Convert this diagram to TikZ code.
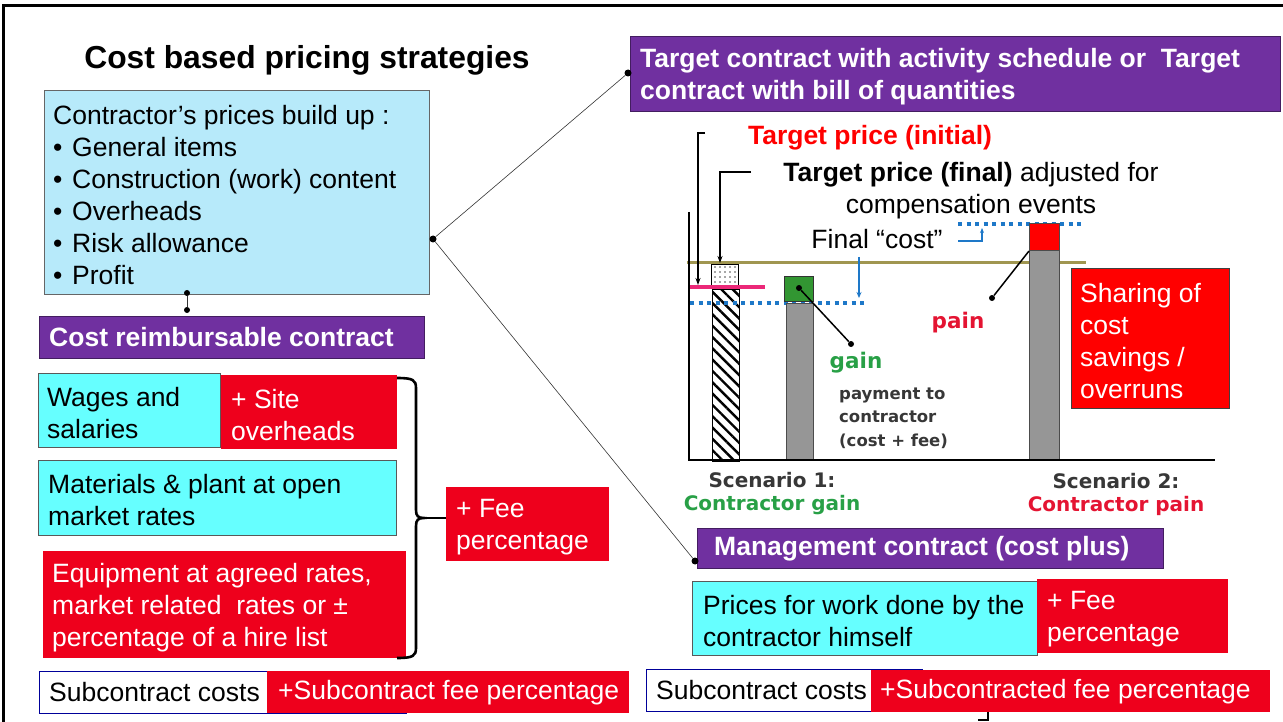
\documentclass[tikz,border=0pt]{standalone}
\usepackage{fontspec}
\setmainfont{Liberation Sans}
\newfontfamily\chartfont{DejaVu Sans}
\usetikzlibrary{patterns.meta,arrows.meta}

\definecolor{skyfill}{RGB}{183,234,250}
\definecolor{aqua}{RGB}{102,255,255}
\definecolor{hotred}{RGB}{238,0,28}
\definecolor{plum}{RGB}{112,48,160}
\definecolor{olivebar}{RGB}{160,150,80}
\definecolor{rose}{RGB}{235,40,120}
\definecolor{dotblue}{RGB}{30,120,200}
\definecolor{leaf}{RGB}{50,150,50}
\definecolor{gaingreen}{RGB}{40,160,70}
\definecolor{painred}{RGB}{228,20,50}
\definecolor{bargray}{RGB}{150,150,150}
\definecolor{ink}{RGB}{55,55,55}

\newcommand\mainsize{\fontsize{26.5}{32}\selectfont}

\tikzset{
  wh/.style 2 args={minimum width=#1, minimum height=#2},
  panel/.style={anchor=north west, rectangle, inner sep=0pt},
  lbl/.style={anchor=west, align=left, inner sep=0pt, font=\mainsize},
  ml/.style={yshift=-2.5pt},
  wlbl/.style={lbl, text=white},
  blbl/.style={lbl, text=white, font=\mainsize\bfseries},
  sky/.style={panel, fill=skyfill, draw=gray!80!black, line width=0.8pt},
  aquabox/.style={panel, fill=aqua, draw=gray!70!black, line width=0.8pt},
  redbox/.style={panel, fill=hotred},
  purplebox/.style={panel, fill=plum, draw=plum!60!black, line width=0.8pt},
  whitebox/.style={panel, fill=white, draw=blue!60!black, line width=0.8pt},
  joint/.style={circle, fill=black, inner sep=0pt, minimum size=7pt},
  link/.style={draw=black!80, line width=0.6pt},
  bluedots/.style={dotblue, line width=3.5pt, dash pattern=on 4pt off 4.5pt},
  chartbold/.style={inner sep=0pt, font=\chartfont\bfseries\fontsize{21.5}{25}\selectfont},
  pointer/.style={line width=1.5pt},
}

\begin{document}
\begin{tikzpicture}[x=1pt,y=-1pt]
\useasboundingbox (0,0) rectangle (1283,722);

% outer frame
\draw[line width=3pt] (3,722) -- (3,6) -- (1283,6);

% ---------- left half ----------
\node[font=\fontsize{31.8}{38}\selectfont\bfseries] (title) at (307,60) {Cost based pricing strategies};

\node[sky, wh={385}{204}] (build) at (44,90) {};
\node[lbl, ml] (buildT) at ([xshift=9pt]build.west) {Contractor’s prices build up :\\
  \makebox[19pt][l]{•}General items\\
  \makebox[19pt][l]{•}Construction (work) content\\
  \makebox[19pt][l]{•}Overheads\\
  \makebox[19pt][l]{•}Risk allowance\\
  \makebox[19pt][l]{•}Profit};

\node[purplebox, wh={385}{42}] (reimb) at (39,316) {};
\node[blbl] (reimbT) at ([xshift=10pt]reimb.west) {Cost reimbursable contract};

\node[joint, minimum size=6pt] (d1) at (187,293) {};
\node[joint, minimum size=6pt] (d2) at (187,310) {};
\draw[link, line width=1pt] (d1) -- (d2);

\node[aquabox, wh={182}{74}] (wages) at (38,373) {};
\node[lbl, ml] (wagesT) at ([xshift=9pt]wages.west) {Wages and\\salaries};
\node[redbox, wh={176}{74}] (site) at (221,375) {};
\node[wlbl, ml] (siteT) at ([xshift=10pt]site.west) {+ Site\\overheads};

\node[aquabox, wh={358}{75}] (mat) at (38,460) {};
\node[lbl, ml] (matT) at ([xshift=10pt]mat.west) {Materials \& plant at open\\market rates};

\node[redbox, wh={363}{107}] (equip) at (43,551) {};
\node[wlbl, ml] (equipT) at ([xshift=9pt]equip.west) {Equipment at agreed rates,\\market related~ rates or ±\\percentage of a hire list};

\node[redbox, wh={163}{74}] (fee) at (446,487) {};
\node[wlbl, ml] (feeT) at ([xshift=10pt]fee.west) {+ Fee\\percentage};

% brace gathering the three cost items
\coordinate (tip) at (424,518);
\draw[line width=2.6pt]
  (397,378) .. controls (413,378) and (416,380) .. (416,388) -- (416,510)
  .. controls (416,516) and (418,518) .. (tip)
  .. controls (418,518) and (416,520) .. (416,526) -- (416,648)
  .. controls (416,656) and (413,658) .. (397,658);
\draw[line width=2.6pt] (tip) -- (tip -| fee.west);

\node[whitebox, wh={367}{42}] (subL) at (39,671) {};
\node[lbl] (subLT) at ([xshift=10pt]subL.west) {Subcontract costs};
\node[redbox, wh={362}{42}] (subLfee) at (267,671) {};
\node[wlbl] (subLfeeT) at ([xshift=11pt]subLfee.west) {+Subcontract fee percentage};

% ---------- connectors from the price build-up ----------
\node[joint] (hub) at (433,239) {};
\node[purplebox, wh={650}{75}] (target) at (630,36) {};
\node[blbl, ml] (targetT) at ([xshift=10pt]target.west) {Target contract with activity schedule or~ Target\\contract with bill of quantities};
\node[joint] (tdot) at (628,73) {};

\node[purplebox, wh={466}{40}] (mgmt) at (697,528) {};
\node[blbl] (mgmtT) at ([xshift=17pt]mgmt.west) {Management contract (cost plus)};
\node[joint] (mdot) at (695,561) {};

\draw[link] (tdot) -- (hub) -- (mdot);

% ---------- target cost chart ----------
\draw[bluedots] (958,224) -- (1085,224);
\draw[olivebar, line width=3pt] (687,263) -- (1086,263);

% hatched bar with stippled cap
\node[panel, wh={27}{172}, draw=black, line width=1pt,
      pattern={Lines[angle=-45, distance=8pt, line width=2.4pt]}] (hatch) at (711,288) {};
\node[panel, wh={27}{24}, draw=black, line width=1pt,
      pattern={Dots[distance=5pt, radius=0.9pt]}, pattern color=black!70] (stip) at (711,264) {};
\draw[rose, line width=4pt] (690,287) -- (765,287);
\draw[bluedots] (690,303) -- (867,303);

% scenario bars
\node[panel, wh={27}{157}, fill=bargray, draw=black!70, line width=1pt] (bar1) at (786,303) {};
\node[panel, wh={29}{25}, fill=leaf, draw=black!80, line width=1pt] (gsq) at (784,276) {};
\node[panel, wh={30}{210}, fill=bargray, draw=black!70, line width=1pt] (bar2) at (1029,250) {};
\node[panel, wh={30}{27}, fill=red, draw=black!70, line width=1pt] (rsq) at (1029,223) {};

% axes
\draw[line width=2pt] (689,212) -- (689,460);
\draw[line width=2pt] (688,460) -- (1215,460);

% price markers
\draw[line width=1.5pt, -{Stealth[length=7pt,width=5pt]}] (705,133) -- (698,133) -- (698,285);
\draw[line width=1.5pt, -{Stealth[length=7pt,width=5pt]}] (751,172) -- (720,172) -- (720,263);
\draw[dotblue, line width=1.2pt, -{Stealth[length=6pt,width=5pt]}] (859,257) -- (859,298);
\draw[dotblue, line width=1.2pt, -{Stealth[length=5pt,width=4pt]}] (958,241) -- (982,241) -- (982,228);

% gain / pain pointers
\node[joint, minimum size=6pt] (gdot) at (799,288) {};
\node[joint, minimum size=6pt] (gaindot) at (851,344) {};
\draw[pointer] (gdot) -- (gaindot);
\node[joint, minimum size=6pt] (pdot) at (992,298) {};
\draw[pointer] (pdot) -- (rsq.south west);

% chart labels
\node[font=\mainsize\bfseries, text=red, inner sep=0pt] (tpi) at (870,138) {Target price (initial)};
\node[font=\mainsize, inner sep=0pt] (tpf) at (971,175) {\textbf{Target price (final)} adjusted for};
\node[font=\mainsize, inner sep=0pt] (comp) at (971,207) {compensation events};
\node[font=\mainsize, inner sep=0pt] (fcost) at (877,239) {Final “cost”};

\node[chartbold, text=gaingreen] (gain) at (856,363) {gain};
\node[chartbold, text=painred] (pain) at (958,323) {pain};
\node[anchor=west, align=left, inner sep=0pt, text=ink,
      font=\chartfont\bfseries\fontsize{16.5}{23.5}\selectfont] (pay) at (839,418) {payment to\\contractor\\(cost + fee)};

\node[chartbold, align=center, text=ink, font=\chartfont\bfseries\fontsize{20}{23}\selectfont] (sc1) at (772,494)
  {Scenario 1:\\\textcolor{gaingreen}{Contractor gain}};
\node[chartbold, align=center, text=ink, font=\chartfont\bfseries\fontsize{20}{23}\selectfont] (sc2) at (1116,494)
  {Scenario 2:\\\textcolor{painred}{Contractor pain}};

\node[panel, wh={158}{140}, fill=red, draw=black!75, line width=1pt] (share) at (1071,268) {};
\node[wlbl, ml] (shareT) at ([xshift=9pt]share.west) {Sharing of\\cost\\savings /\\overruns};

% ---------- management contract items ----------
\node[aquabox, wh={345}{74}] (work) at (692,581) {};
\node[lbl, ml] (workT) at ([xshift=11pt]work.west) {Prices for work done by the\\contractor himself};
\node[redbox, wh={191}{74}] (workfee) at (1037,579) {};
\node[wlbl, ml] (workfeeT) at ([xshift=10pt]workfee.west) {+ Fee\\percentage};

\node[whitebox, wh={276}{42}] (subR) at (646,669) {};
\node[lbl] (subRT) at ([xshift=10pt]subR.west) {Subcontract costs};
\node[redbox, wh={399}{42}] (subRfee) at (871,670) {};
\node[wlbl] (subRfeeT) at ([xshift=9pt]subRfee.west) {+Subcontracted fee percentage};

\draw[line width=2pt] (988,712) -- (988,720) -- (978,720);
\end{tikzpicture}
\end{document}
